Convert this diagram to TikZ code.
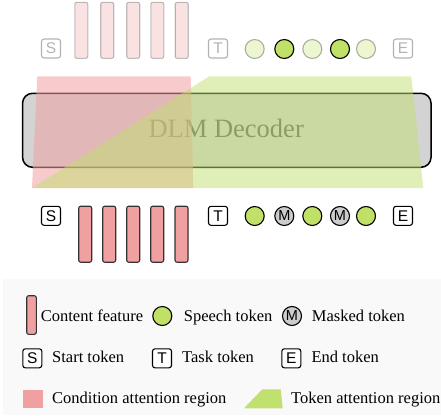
\documentclass[tikz,border=0pt]{standalone}
\usepackage{fontspec}
\setmainfont{Liberation Serif}
\setsansfont{Liberation Sans}
\definecolor{featpink}{HTML}{F0A0A0}
\definecolor{speechgreen}{HTML}{C0E068}
\definecolor{maskgray}{HTML}{CCCCCC}
\definecolor{decgray}{HTML}{D3D3D3}
\definecolor{legbg}{HTML}{F9F9F9}
\definecolor{reggreen}{HTML}{C0E070}
\definecolor{featborder}{HTML}{333333}
\tikzset{
  tokbox/.style={draw, rounded corners=2.5pt, minimum size=19pt, inner sep=0pt, line width=1.1pt, fill=white, font=\sffamily\fontsize{15.5}{15.5}\selectfont},
  featbar/.style={draw=featborder, rounded corners=2pt, fill=featpink, minimum width=13pt, minimum height=56pt, inner sep=0pt, line width=1.1pt},
  speech/.style={circle, draw, fill=speechgreen, minimum size=19pt, inner sep=0pt, line width=1.1pt},
  masked/.style={circle, draw, fill=maskgray, minimum size=19pt, inner sep=0pt, line width=1.1pt, font=\sffamily\fontsize{14.5}{14.5}\selectfont},
  faded/.style={opacity=0.3},
  legtext/.style={anchor=base west, inner sep=0pt, font=\fontsize{16.5}{18}\selectfont},
}
\begin{document}
\begin{tikzpicture}[x=1pt,y=-1pt]
\useasboundingbox (0,0) rectangle (441,415);
% legend background
\fill[legbg] (3,279) rectangle (441,415);

% top (output) row, faded
\node[tokbox, faded] (tS) at (51,48.5) {S};
\node[featbar, faded] (tf1) at (81.3,30.3) {};
\node[featbar, faded] (tf2) at (107.2,30.3) {};
\node[featbar, faded] (tf3) at (133.2,30.3) {};
\node[featbar, faded] (tf4) at (157.3,30.3) {};
\node[featbar, faded] (tf5) at (181.7,30.3) {};
\node[tokbox, faded] (tT) at (218,48.5) {T};
\node[speech, faded] (tc1) at (254.7,49) {};
\node[speech] (tc2) at (284.3,49) {};
\node[speech, faded] (tc3) at (312.3,49) {};
\node[speech] (tc4) at (340,49) {};
\node[speech, faded] (tc5) at (366,49) {};
\node[tokbox, faded] (tE) at (403,48.5) {E};

% decoder
\node[draw, line width=1.5pt, fill=decgray, rounded corners=10pt, minimum width=408.5pt, minimum height=74pt, inner sep=0pt] (dec) at (226.8,130.3) {};
\node[anchor=base, inner sep=0pt, text=black!65, font=\fontsize{26.5}{30}\selectfont] (dectext) at (226.2,137.7) {DLM Decoder};

% attention regions
\fill[featpink, opacity=0.55] (37.3,76.3) -- (190.7,76.3) -- (193.3,188) -- (32,188) -- cycle;
\fill[reggreen, opacity=0.5] (209.3,76.3) -- (411.3,76.3) -- (423.3,188) -- (32,188) -- cycle;

% bottom (input) row
\node[tokbox] (bS) at (51,215.8) {S};
\node[featbar] (bf1) at (85.2,234.2) {};
\node[featbar] (bf2) at (109.2,234.2) {};
\node[featbar] (bf3) at (133.2,234.2) {};
\node[featbar] (bf4) at (157.2,234.2) {};
\node[featbar] (bf5) at (181.5,234.2) {};
\node[tokbox] (bT) at (218,215.8) {T};
\node[speech] (bc1) at (254.7,216) {};
\node[masked] (bm1) at (284.3,216) {M};
\node[speech] (bc2) at (312.3,216) {};
\node[masked] (bm2) at (340,216) {M};
\node[speech] (bc3) at (366,216) {};
\node[tokbox] (bE) at (403,215.8) {E};

% legend row 1
\node[featbar, minimum width=9.6pt, minimum height=38.6pt] (lf) at (31.5,315) {};
\node[legtext] (lft) at (40.7,321) {Content feature};
\node[speech] (lc) at (162.3,316) {};
\node[legtext] (lct) at (183.7,321) {Speech token};
\node[masked] (lm) at (292,316) {M};
\node[legtext] (lmt) at (311.7,321) {Masked token};

% legend row 2
\node[tokbox] (lS) at (32.3,358.3) {S};
\node[legtext] (lSt) at (52,362.7) {Start token};
\node[tokbox] (lT) at (162,358.3) {T};
\node[legtext] (lTt) at (182,362.7) {Task token};
\node[tokbox] (lE) at (291.3,358.3) {E};
\node[legtext] (lEt) at (311.3,362.7) {End token};

% legend row 3
\fill[featpink] (22.7,390) rectangle (43.3,408.3);
\node[legtext] (lrt) at (52,403.3) {Condition attention region};
\fill[reggreen] (244,408.3) -- (262.3,389.3) -- (280.7,389.3) -- (282.7,408.3) -- cycle;
\node[legtext] (lgt) at (291,403.3) {Token attention region};
\end{tikzpicture}
\end{document}
